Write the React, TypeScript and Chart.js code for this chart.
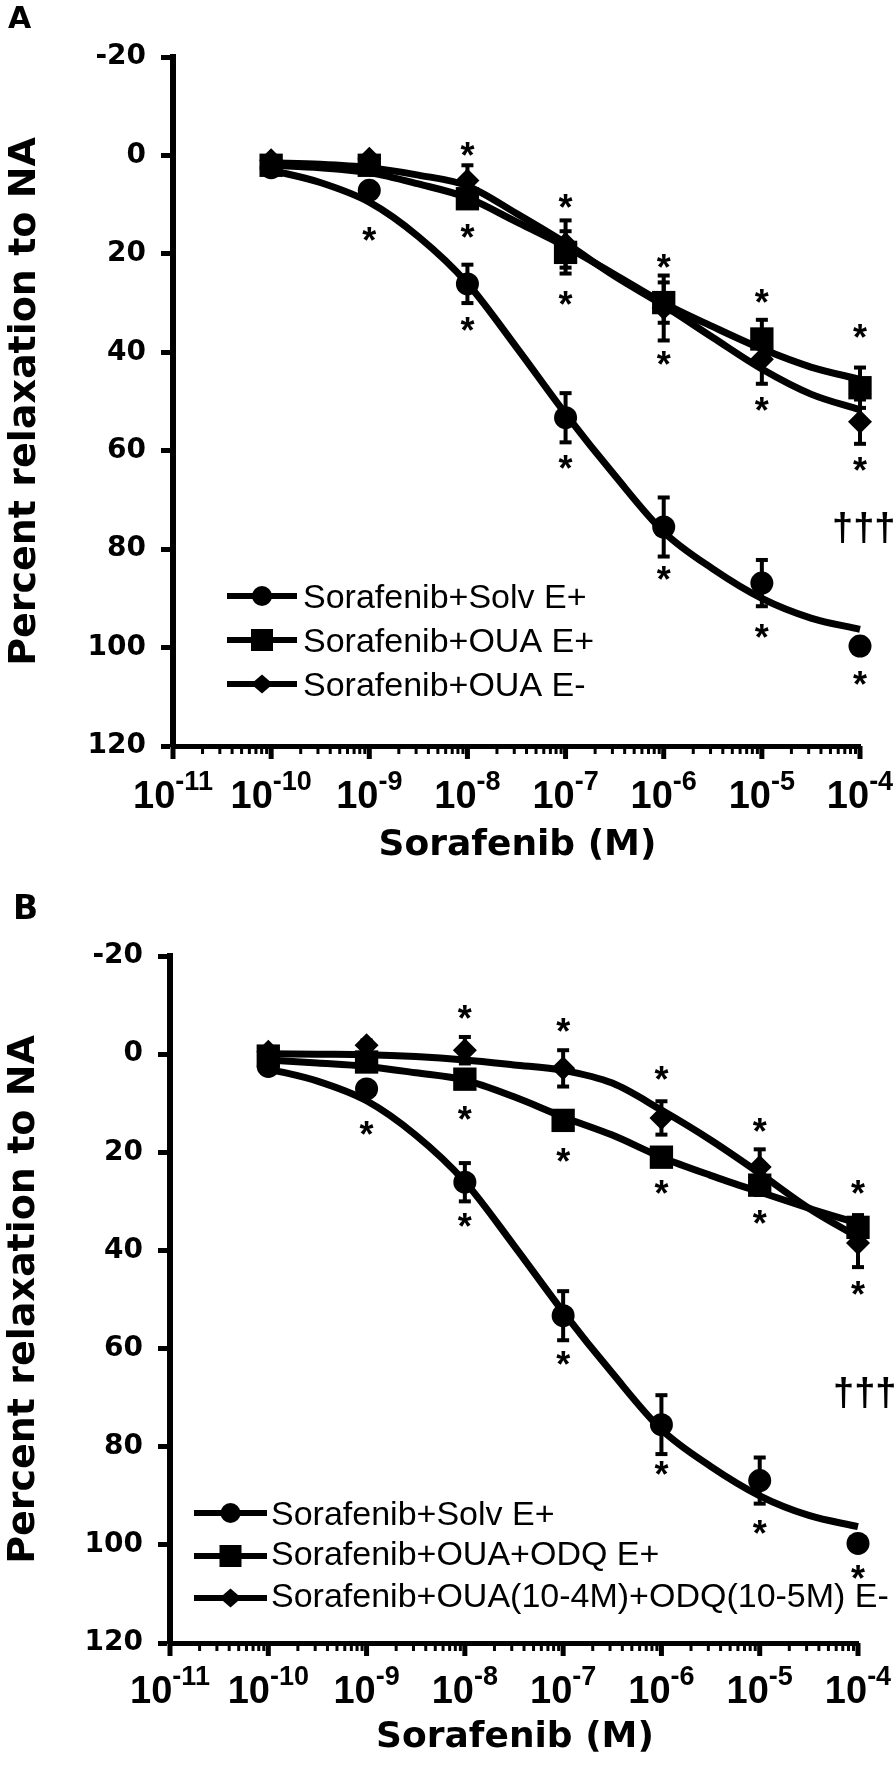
import React, { useEffect, useRef } from 'react';
import { Chart, registerables } from 'chart.js';

Chart.register(...registerables);

// ---------- data ----------
const doseExponents = [-10, -9, -8, -7, -6, -5, -4];
const fitExponents = [-10, -9.5, -9, -8.5, -8, -7.5, -7, -6.5, -6, -5.5, -5, -4.5, -4];
const xTickExponents = [-11, -10, -9, -8, -7, -6, -5, -4];
const xTickLabels = ['-11', '-10', '-9', '-8', '-7', '-6', '-5', '-4'];

// Sorafenib + Solv E+ (shared control, both panels)
const solvMean = [2.5, 7.1, 26.1, 53.3, 75.5, 86.9, 99.7];
const solvSem = [1.0, 1.2, 3.9, 5.0, 6.0, 4.7, 1.2];
const solvFit = [3.0, 5.5, 9.5, 16.5, 26.0, 39.0, 52.5, 65.0, 76.5, 84.0, 90.0, 94.0, 96.3];

// Panel A
const ouaMean = [2.0, 2.0, 8.8, 19.7, 29.9, 37.3, 47.2];
const ouaSem = [0.8, 0.8, 1.5, 4.3, 4.1, 3.9, 4.1];
const ouaFit = [2.0, 2.5, 3.5, 5.8, 8.6, 13.5, 18.5, 24.2, 30.0, 34.8, 39.3, 43.0, 45.5];

const ouaENegMean = [1.0, 0.7, 5.1, 18.0, 31.0, 41.4, 54.1];
const ouaENegSem = [0.8, 0.8, 3.1, 4.8, 6.6, 5.0, 4.5];
const ouaENegFit = [1.5, 1.8, 2.5, 4.0, 6.2, 11.8, 17.8, 24.5, 30.5, 37.0, 43.4, 48.5, 51.7];

const aStarExponents = [-9, -8, -8, -8, -7, -7, -7, -6, -6, -6, -5, -5, -5, -4, -4, -4];
const aStarValues = [15.9, -1.4, 15.3, 34.2, 9.2, 28.9, 62.3, 21.4, 41.1, 84.9, 28.5, 50.5, 96.7, 35.6, 62.7, 106.2];

// Panel B
const odqMean = [0.4, 1.6, 5.1, 13.5, 21.0, 26.7, 35.3];
const odqSem = [0.8, 0.8, 1.2, 1.5, 1.8, 2.0, 2.5];
const odqFit = [1.2, 1.8, 2.5, 3.8, 5.3, 8.7, 12.8, 16.5, 21.0, 24.7, 28.1, 31.4, 34.5];

const odqENegMean = [-0.5, -1.8, -0.8, 2.9, 13.0, 23.0, 38.5];
const odqENegSem = [0.8, 1.0, 2.7, 3.7, 3.4, 3.6, 4.9];
const odqENegFit = [-0.1, 0.0, 0.1, 0.5, 1.2, 2.2, 3.3, 5.9, 11.4, 17.5, 24.3, 31.4, 37.3];

const bStarExponents = [-9, -8, -8, -8, -7, -7, -7, -6, -6, -6, -5, -5, -5, -4, -4, -4];
const bStarValues = [15.1, -8.6, 12.0, 33.8, -5.9, 20.6, 62.0, 3.9, 27.1, 84.4, 14.5, 33.2, 96.4, 27.1, 47.7, 105.6];

const aNames = ['Sorafenib+Solv E+', 'Sorafenib+OUA E+', 'Sorafenib+OUA E-'];
const bNames = ['Sorafenib+Solv E+', 'Sorafenib+OUA+ODQ E+', 'Sorafenib+OUA(10-4M)+ODQ(10-5M) E-'];

// ---------- styles ----------
const BOLD_FAMILY = '"DejaVu Sans", sans-serif';
const ARIAL_FAMILY = '"Liberation Sans", Arial, sans-serif';
const WIDTH = 894;

type Series = { name: string; style: string; radius: number; mean: number[]; sem: number[]; fit: number[] };
type Panel = {
  height: number;
  area: { left: number; right: number; top: number; bottom: number };
  label: string; labelSize: number; labelPos: [number, number];
  yTitleX: number; xTitleY: number; xTickBaseline: number;
  legend: { x1: number; x2: number; textX: number; rows: number[] };
  dagger: [number, number];
  series: Series[];
  starExp: number[]; starVal: number[];
};

const markerStyles = [
  { style: 'circle', radius: 11.5 },
  { style: 'rect', radius: 16.5 },
  { style: 'rectRot', radius: 12 },
];

function makeSeries(names: string[], means: number[][], sems: number[][], fits: number[][]): Series[] {
  return names.map((name, i) => ({
    name, style: markerStyles[i].style, radius: markerStyles[i].radius,
    mean: means[i], sem: sems[i], fit: fits[i],
  }));
}

const panelA: Panel = {
  height: 880,
  area: { left: 173, right: 860, top: 57, bottom: 746 },
  label: 'A', labelSize: 30, labelPos: [8, 28],
  yTitleX: 35, xTitleY: 855, xTickBaseline: 808,
  legend: { x1: 227, x2: 297, textX: 303, rows: [596, 640, 684] },
  dagger: [832, 527],
  series: makeSeries(aNames, [solvMean, ouaMean, ouaENegMean], [solvSem, ouaSem, ouaENegSem], [solvFit, ouaFit, ouaENegFit]),
  starExp: aStarExponents, starVal: aStarValues,
};

const panelB: Panel = {
  height: 885,
  area: { left: 170, right: 858, top: 76, bottom: 763 },
  label: 'B', labelSize: 33, labelPos: [13, 39],
  yTitleX: 34, xTitleY: 867, xTickBaseline: 823,
  legend: { x1: 194, x2: 267, textX: 271, rows: [633, 676, 718] },
  dagger: [833, 512],
  series: makeSeries(bNames, [solvMean, odqMean, odqENegMean], [solvSem, odqSem, odqENegSem], [solvFit, odqFit, odqENegFit]),
  starExp: bStarExponents, starVal: bStarValues,
};

function centeredText(ctx: CanvasRenderingContext2D, text: string, x: number, y: number, align: CanvasTextAlign) {
  const m = ctx.measureText(text);
  ctx.textAlign = align;
  ctx.textBaseline = 'alphabetic';
  const off = (m.actualBoundingBoxAscent - m.actualBoundingBoxDescent) / 2;
  ctx.fillText(text, x, y + off);
}

function drawMarker(ctx: CanvasRenderingContext2D, style: string, x: number, y: number) {
  ctx.beginPath();
  if (style === 'circle') {
    ctx.arc(x, y, 10, 0, Math.PI * 2);
  } else if (style === 'rect') {
    ctx.rect(x - 11, y - 11, 22, 22);
  } else {
    ctx.moveTo(x - 11, y); ctx.lineTo(x, y - 9.5); ctx.lineTo(x + 11, y); ctx.lineTo(x, y + 9.5); ctx.closePath();
  }
  ctx.fill();
}

function makePlugin(panel: Panel) {
  return {
    id: 'panelDecor' + panel.label,
    afterDatasetsDraw(chart: any) {
      const ctx: CanvasRenderingContext2D = chart.ctx;
      const xs = chart.scales.x, ys = chart.scales.y;
      ctx.save();
      ctx.fillStyle = '#000';
      panel.series.forEach((s) => {
        doseExponents.forEach((e, i) => {
          const x = xs.getPixelForValue(Math.pow(10, e));
          const yTop = ys.getPixelForValue(s.mean[i] - s.sem[i]);
          const yBot = ys.getPixelForValue(s.mean[i] + s.sem[i]);
          ctx.fillRect(x - 2, yTop, 4, yBot - yTop);
          ctx.fillRect(x - 6, yTop - 2, 12, 4);
          ctx.fillRect(x - 6, yBot - 2, 12, 4);
        });
      });
      ctx.restore();
    },
    afterDraw(chart: any) {
      const ctx: CanvasRenderingContext2D = chart.ctx;
      const xs = chart.scales.x, ys = chart.scales.y;
      const area = chart.chartArea;
      ctx.save();
      ctx.fillStyle = '#000';
      ctx.strokeStyle = '#000';

      // x axis ticks (major + minor)
      xTickExponents.forEach((e, k) => {
        const x = xs.getPixelForValue(Math.pow(10, e));
        ctx.fillRect(x - 2.5, area.bottom, 5, 13);
        if (k < xTickExponents.length - 1) {
          for (let m = 2; m <= 9; m++) {
            const xm = xs.getPixelForValue(m * Math.pow(10, e));
            ctx.fillRect(xm - 1.5, area.bottom, 3, 8);
          }
        }
      });

      // x tick labels: 10 with superscript exponent
      xTickExponents.forEach((e, k) => {
        const x = xs.getPixelForValue(Math.pow(10, e));
        ctx.font = `bold 38px ${ARIAL_FAMILY}`;
        const w1 = ctx.measureText('10').width;
        ctx.font = `bold 27px ${ARIAL_FAMILY}`;
        const w2 = ctx.measureText(xTickLabels[k]).width;
        const start = x - (w1 + w2) / 2;
        ctx.textAlign = 'left';
        ctx.textBaseline = 'alphabetic';
        ctx.font = `bold 38px ${ARIAL_FAMILY}`;
        ctx.fillText('10', start, panel.xTickBaseline);
        ctx.font = `bold 27px ${ARIAL_FAMILY}`;
        ctx.fillText(xTickLabels[k], start + w1, panel.xTickBaseline - 18);
      });

      // axis titles
      ctx.font = `bold 36px ${BOLD_FAMILY}`;
      ctx.textAlign = 'center';
      ctx.textBaseline = 'alphabetic';
      ctx.fillText('Sorafenib (M)', (area.left + area.right) / 2 + 1, panel.xTitleY);

      ctx.save();
      ctx.translate(panel.yTitleX, (area.top + area.bottom) / 2);
      ctx.rotate(-Math.PI / 2);
      ctx.font = `bold 38px ${BOLD_FAMILY}`;
      ctx.textAlign = 'center';
      ctx.textBaseline = 'alphabetic';
      ctx.fillText('Percent relaxation to NA', 0, 0);
      ctx.restore();

      // panel letter
      ctx.font = `bold ${panel.labelSize}px ${BOLD_FAMILY}`;
      ctx.textAlign = 'left';
      ctx.textBaseline = 'alphabetic';
      ctx.fillText(panel.label, panel.labelPos[0], panel.labelPos[1]);

      // significance stars
      ctx.font = `bold 36px ${ARIAL_FAMILY}`;
      panel.starExp.forEach((e, i) => {
        const x = xs.getPixelForValue(Math.pow(10, e));
        const y = ys.getPixelForValue(panel.starVal[i]);
        centeredText(ctx, '*', x, y, 'center');
      });

      // daggers
      ctx.font = `bold 38px ${ARIAL_FAMILY}`;
      centeredText(ctx, '\u2020\u2020\u2020', panel.dagger[0], panel.dagger[1], 'left');

      // legend
      const lg = panel.legend;
      panel.series.forEach((s, i) => {
        const y = lg.rows[i];
        ctx.fillRect(lg.x1, y - 3, lg.x2 - lg.x1, 6);
        drawMarker(ctx, s.style, (lg.x1 + lg.x2) / 2, y);
        ctx.font = `34px ${ARIAL_FAMILY}`;
        centeredText(ctx, s.name, lg.textX, y, 'left');
      });

      ctx.restore();
    },
  };
}

function buildChart(canvas: HTMLCanvasElement, panel: Panel) {
  const fitX = fitExponents.map((e) => Math.pow(10, e));
  const doseX = doseExponents.map((e) => Math.pow(10, e));
  const datasets: any[] = [];
  panel.series.forEach((s) => {
    datasets.push({
      label: s.name,
      data: doseX.map((x, i) => ({ x, y: s.mean[i] })),
      showLine: false,
      clip: false,
      pointStyle: s.style,
      pointRadius: s.radius,
      pointBackgroundColor: '#000',
      pointBorderColor: '#000',
      pointBorderWidth: 0,
      backgroundColor: '#000',
      borderColor: '#000',
    });
  });
  panel.series.forEach((s) => {
    datasets.push({
      label: s.name + ' fit',
      data: fitX.map((x, i) => ({ x, y: s.fit[i] })),
      showLine: true,
      clip: false,
      pointRadius: 0,
      borderWidth: 7,
      borderColor: '#000',
      backgroundColor: '#000',
      fill: false,
      cubicInterpolationMode: 'monotone',
    });
  });

  const a = panel.area;
  return new Chart(canvas, {
    type: 'scatter',
    data: { datasets },
    options: {
      responsive: false,
      maintainAspectRatio: false,
      devicePixelRatio: 1,
      animation: false,
      events: [],
      layout: { padding: { top: a.top, right: WIDTH - a.right, left: 0, bottom: 0 } },
      plugins: { legend: { display: false }, tooltip: { enabled: false }, title: { display: false } },
      scales: {
        x: {
          type: 'logarithmic',
          position: 'bottom',
          min: 1e-11,
          max: 1e-4,
          grid: { display: false },
          border: { display: true, color: '#000', width: 5 },
          ticks: { display: false },
          afterFit: (s: any) => { s.height = panel.height - a.bottom; },
        },
        y: {
          type: 'linear',
          position: 'left',
          reverse: true,
          min: -20,
          max: 120,
          ticks: {
            stepSize: 20,
            color: '#000',
            padding: 15,
            font: { family: BOLD_FAMILY, weight: 'bold', size: 28 },
          },
          grid: { display: true, drawOnChartArea: false, drawTicks: true, tickLength: 12, tickWidth: 5, tickColor: '#000' },
          border: { display: true, color: '#000', width: 6 },
          afterFit: (s: any) => { s.width = a.left; },
        },
      },
    } as any,
    plugins: [makePlugin(panel) as any],
  });
}

function PanelChart({ panel }: { panel: Panel }) {
  const ref = useRef<HTMLCanvasElement | null>(null);
  useEffect(() => {
    if (!ref.current) return;
    const chart = buildChart(ref.current, panel);
    return () => chart.destroy();
  }, [panel]);
  return (
    <canvas
      ref={ref}
      width={WIDTH}
      height={panel.height}
      style={{ display: 'block', width: WIDTH, height: panel.height }}
    />
  );
}

export default function App() {
  useEffect(() => {
    document.body.style.margin = '0';
    document.body.style.background = '#fff';
  }, []);
  return (
    <div style={{ width: WIDTH, height: 1765, background: '#fff' }}>
      <PanelChart panel={panelA} />
      <PanelChart panel={panelB} />
    </div>
  );
}
